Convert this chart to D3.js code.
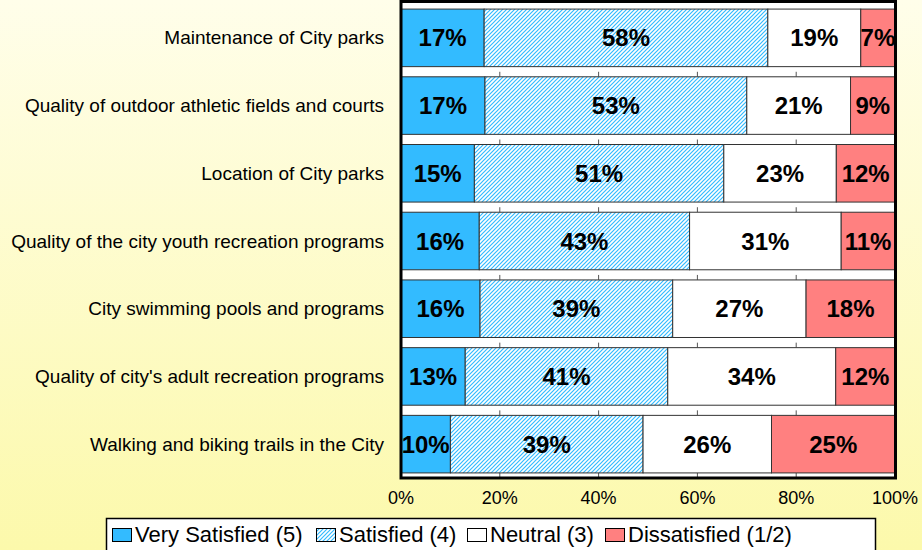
<!DOCTYPE html>
<html><head><meta charset="utf-8">
<script src="https://cdn.jsdelivr.net/npm/d3@7"></script>
<style>html,body{margin:0;padding:0;}svg{display:block;}</style>
</head><body>
<svg id="chart" width="922" height="550"></svg>
<script>
const categories = [
  "Maintenance of City parks",
  "Quality of outdoor athletic fields and courts",
  "Location of City parks",
  "Quality of the city youth recreation programs",
  "City swimming pools and programs",
  "Quality of city's adult recreation programs",
  "Walking and biking trails in the City"
];
const seriesNames = ["Very Satisfied (5)", "Satisfied (4)", "Neutral (3)", "Dissatisfied (1/2)"];
const verySatisfied = [17, 17, 15, 16, 16, 13, 10];
const satisfied     = [58, 53, 51, 43, 39, 41, 39];
const neutral       = [19, 21, 23, 31, 27, 34, 26];
const dissatisfied  = [7, 9, 12, 11, 18, 12, 25];
const xTicks = [0, 0.2, 0.4, 0.6, 0.8, 1.0];

(function(){
const svg = d3.select("#chart");
const W = 922, H = 550;
const FONT = "Liberation Sans, Arial, sans-serif";
const defs = svg.append("defs");
const bg = defs.append("linearGradient").attr("id","bg").attr("x1",0).attr("y1",0).attr("x2",0).attr("y2",1);
bg.append("stop").attr("offset","0%").attr("stop-color","#fffeea");
bg.append("stop").attr("offset","100%").attr("stop-color","#fcf9ab");
const pat = defs.append("pattern").attr("id","hatch").attr("patternUnits","userSpaceOnUse")
  .attr("width",4).attr("height",4);
pat.append("rect").attr("width",4).attr("height",4).attr("fill","#ffffff");
pat.append("path").attr("d","M-1,1 L1,-1 M0,4 L4,0 M3,5 L5,3")
  .attr("stroke","#33bbff").attr("stroke-width",1.2);

svg.append("rect").attr("width",W).attr("height",H).attr("fill","url(#bg)");

const fills = ["#33bbff", "url(#hatch)", "#ffffff", "#ff8080"];
const seriesData = [verySatisfied, satisfied, neutral, dissatisfied];

const pLeft = 401, pRight = 895, pTop = 3, pBottom = 478;
const x = d3.scaleLinear().domain([0,1]).range([pLeft, pRight]);
const y = d3.scaleBand().domain(categories).range([pTop+1, pBottom]).paddingInner(0.15).paddingOuter(0.075);

svg.append("rect").attr("x",pLeft).attr("y",pTop-1).attr("width",pRight-pLeft).attr("height",pBottom-pTop+1).attr("fill","#ffffff");

const rows = categories.map((c,i) => {
  const vals = seriesData.map(s => s[i]);
  const total = d3.sum(vals);
  let acc = 0;
  return vals.map((v,j) => {
    const seg = {cat:c, j, v, x0: acc/total, x1: (acc+v)/total};
    acc += v;
    return seg;
  });
});

const tickG = svg.append("g");
categories.forEach((c,i) => {
  if (i === 0) return;
  const yy = y(c);
  xTicks.slice(1,5).forEach(t => {
    tickG.append("line").attr("x1",x(t)).attr("x2",x(t)).attr("y1",yy-5).attr("y2",yy).attr("stroke","#555").attr("stroke-width",1);
  });
});
xTicks.slice(1,5).forEach(t => {
  tickG.append("line").attr("x1",x(t)).attr("x2",x(t)).attr("y1",pBottom-5).attr("y2",pBottom).attr("stroke","#555").attr("stroke-width",1);
});

const barG = svg.append("g");
rows.forEach(r => {
  r.forEach(s => {
    barG.append("rect")
      .attr("x", x(s.x0)).attr("y", y(s.cat))
      .attr("width", x(s.x1)-x(s.x0)).attr("height", y.bandwidth())
      .attr("fill", fills[s.j]).attr("stroke","#333").attr("stroke-width",1);
  });
});
rows.forEach(r => {
  r.forEach(s => {
    barG.append("text")
      .attr("x", (x(s.x0)+x(s.x1))/2).attr("y", y(s.cat)+y.bandwidth()/2)
      .attr("text-anchor","middle").attr("dominant-baseline","central")
      .attr("font-family",FONT).attr("font-weight","bold")
      .attr("font-size",24).attr("fill","#000")
      .text(s.v + "%");
  });
});

svg.append("rect").attr("x",pLeft).attr("y",pTop-1.5).attr("width",pRight-pLeft+0.5).attr("height",pBottom-pTop+1.5)
  .attr("fill","none").attr("stroke","#000").attr("stroke-width",3);

svg.append("g").selectAll("text").data(categories).join("text")
  .attr("x", 384).attr("y", d => y(d)+y.bandwidth()/2)
  .attr("text-anchor","end").attr("dominant-baseline","central")
  .attr("font-family",FONT).attr("font-size",19).attr("fill","#000")
  .text(d => d);

svg.append("g").selectAll("text").data(xTicks).join("text")
  .attr("x", d => x(d)).attr("y", 504)
  .attr("text-anchor","middle")
  .attr("font-family",FONT).attr("font-size",18).attr("fill","#000")
  .text(d => d3.format(".0%")(d));

const lg = svg.append("g");
lg.append("rect").attr("x",106.5).attr("y",518.5).attr("width",769).attr("height",40)
  .attr("fill","#ffffff").attr("stroke","#000").attr("stroke-width",1.5);
const legX = [112, 316, 467, 605];
seriesNames.forEach((n,i) => {
  lg.append("rect").attr("x",legX[i]+0.5).attr("y",528.5).attr("width",19).attr("height",13)
    .attr("fill",fills[i]).attr("stroke","#000").attr("stroke-width",1);
  lg.append("text").attr("x",legX[i]+23).attr("y",542)
    .attr("font-family",FONT).attr("font-size",22).attr("fill","#000")
    .text(n);
});
})();
</script>
</body></html>
